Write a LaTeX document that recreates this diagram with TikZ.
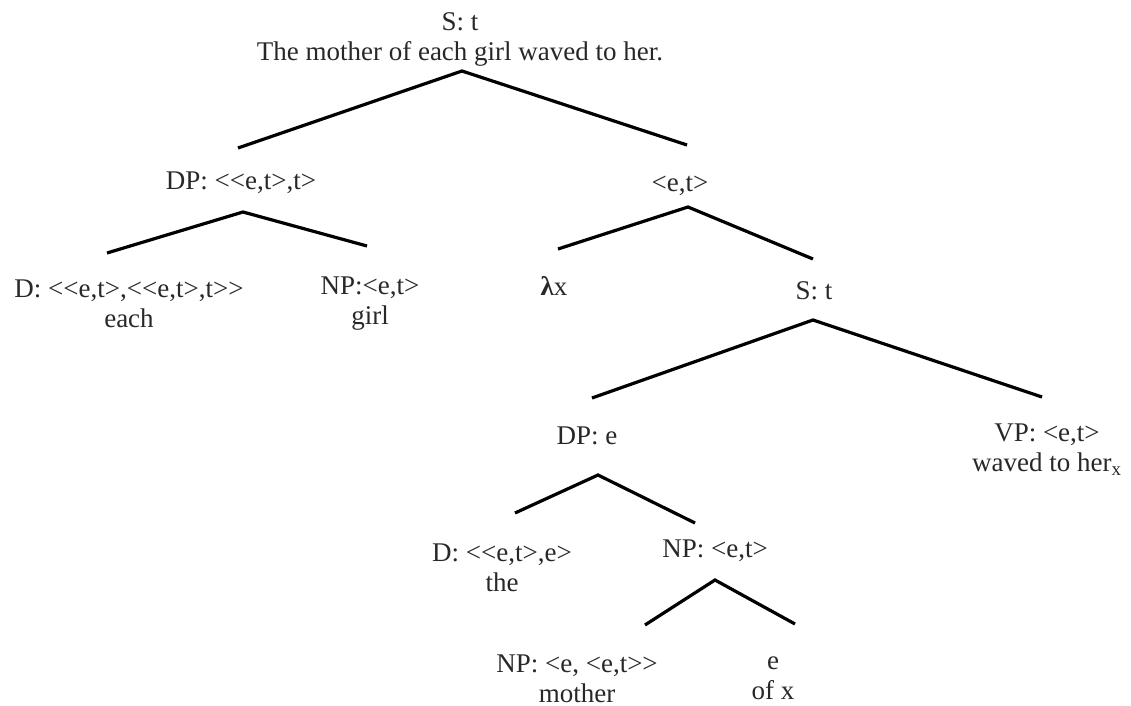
\documentclass[tikz,border=0pt]{standalone}
\usepackage{fontspec}
\setmainfont{Liberation Serif}[Ligatures=TeXOff]
\usepackage{tikz}
\usetikzlibrary{calc}
\definecolor{treegray}{RGB}{40,40,40}
\tikzset{
  typ/.style={
    inner sep=0pt, outer sep=0pt, align=center, text=treegray,
    font=\fontsize{13.5}{15}\selectfont
  },
  branch/.style={line width=1.6pt, color=black}
}

\begin{document}
\begin{tikzpicture}[x=0.5pt, y=-0.5pt]
\useasboundingbox (0,0) rectangle (1131,706);

% labels
\node[typ] (root) at (460,39.5) {S: t\\The mother of each girl waved to her.};
\node[typ] (dpA)  at (241,183)  {DP: <<e,t>,t>};
\node[typ] (det)  at (129,303.5) {D: <<e,t>,<<e,t>,t>>\\each};
\node[typ] (npA)  at (370,303.5) {NP:<e,t>\\girl};
\node[typ] (pred) at (680,186)  {<e,t>};
\node[typ] (lam)  at (554,286)  {\textbf{λ}x};
\node[typ] (sB)   at (814,291)  {S: t};
\node[typ] (dpB)  at (587,436)  {DP: e};
\node[typ] (vp)   at (1047,449.5) {VP: <e,t>\\waved to her\textsubscript{x}};
\node[typ] (detB) at (502,568)  {D: <<e,t>,e>\\the};
\node[typ] (npB)  at (715,551)  {NP: <e,t>};
\node[typ] (npC)  at (577,678.5) {NP: <e, <e,t>>\\mother};
\node[typ] (eN)   at (773,678.5) {e\\of x};

% branches
\draw[branch] ($(dpA)+(-3,-35)$) -- ($(root)+(2,31.5)$) -- ($(pred)+(7,-41)$);
\draw[branch] ($(det)+(-22,-50.5)$) -- ($(dpA)+(2,29)$) -- ($(npA)+(-3,-57.5)$);
\draw[branch] ($(lam)+(4,-37)$) -- ($(pred)+(8,21)$) -- ($(sB)+(-1,-32)$);
\draw[branch] ($(dpB)+(5,-38)$) -- ($(sB)+(-1,29)$) -- ($(vp)+(-5,-52.5)$);
\draw[branch] ($(detB)+(13,-55)$) -- ($(dpB)+(11,39)$) -- ($(npB)+(-20,-28)$);
\draw[branch] ($(npC)+(68,-53.5)$) -- ($(npB)+(0,29)$) -- ($(eN)+(22,-54.5)$);
\end{tikzpicture}
\end{document}
